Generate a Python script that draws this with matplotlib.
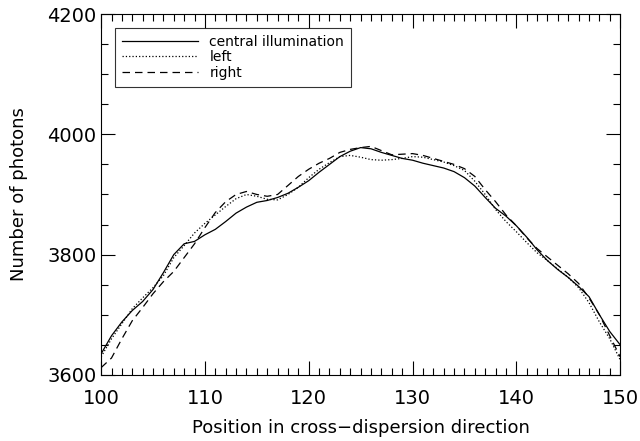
import numpy as np
import matplotlib.pyplot as plt
from matplotlib.ticker import MultipleLocator

# position in cross-dispersion direction
position = np.arange(100, 151)

central = [3635, 3665, 3688, 3707, 3722, 3742, 3770, 3800, 3818, 3822,
           3833, 3842, 3855, 3869, 3879, 3887, 3890, 3895, 3902, 3912,
           3923, 3937, 3950, 3963, 3972, 3978, 3976, 3970, 3965, 3960,
           3957, 3952, 3948, 3944, 3938, 3928, 3914, 3895, 3877, 3864,
           3848, 3829, 3808, 3790, 3775, 3762, 3747, 3730, 3700, 3672,
           3650]

left = [3630, 3660, 3685, 3710, 3728, 3745, 3765, 3795, 3815, 3836,
        3852, 3866, 3880, 3893, 3900, 3897, 3892, 3891, 3900, 3912,
        3928, 3942, 3953, 3963, 3965, 3962, 3958, 3957, 3958, 3960,
        3963, 3962, 3958, 3954, 3948, 3940, 3922, 3900, 3875, 3855,
        3838, 3820, 3803, 3790, 3776, 3762, 3745, 3720, 3688, 3660,
        3625]

right = [3612, 3628, 3660, 3690, 3712, 3735, 3755, 3772, 3795, 3818,
         3845, 3870, 3888, 3900, 3905, 3900, 3897, 3900, 3915, 3930,
         3942, 3952, 3960, 3970, 3975, 3978, 3980, 3973, 3966, 3967,
         3968, 3965, 3960, 3955, 3950, 3943, 3930, 3908, 3888, 3866,
         3848, 3828, 3810, 3796, 3782, 3768, 3752, 3728, 3700, 3665,
         3630]

plt.rcParams['font.family'] = 'DejaVu Sans'

fig = plt.figure(figsize=(6.4, 4.41), dpi=100)
ax = fig.add_axes([0.158, 0.15, 0.811, 0.818])

ax.plot(position, central, '-', color='black', lw=0.9, label='central illumination')
ax.plot(position, left, ':', color='black', lw=0.9, label='left')
ax.plot(position, right, '--', color='black', lw=0.9, dashes=(6, 4), label='right')

ax.set_xlim(100, 150)
ax.set_ylim(3600, 4200)
ax.xaxis.set_major_locator(MultipleLocator(10))
ax.xaxis.set_minor_locator(MultipleLocator(1))
ax.yaxis.set_major_locator(MultipleLocator(200))
ax.yaxis.set_minor_locator(MultipleLocator(50))
ax.tick_params(which='both', direction='in', top=True, right=True, labelsize=14)
ax.tick_params(which='major', length=10, width=0.8)
ax.tick_params(which='minor', length=5, width=0.8)
ax.tick_params(axis='x', pad=10)

ax.set_xlabel('Position in cross\u2212dispersion direction', fontsize=13, labelpad=8)
ax.set_ylabel('Number of photons', fontsize=13, labelpad=14)

leg = ax.legend(loc='upper left', fontsize=10, frameon=True, fancybox=False,
                edgecolor='black', handlelength=5.5, borderaxespad=1.0,
                labelspacing=0.1, borderpad=0.5)
leg.get_frame().set_linewidth(0.8)

fig.savefig('out.png', dpi=100)
